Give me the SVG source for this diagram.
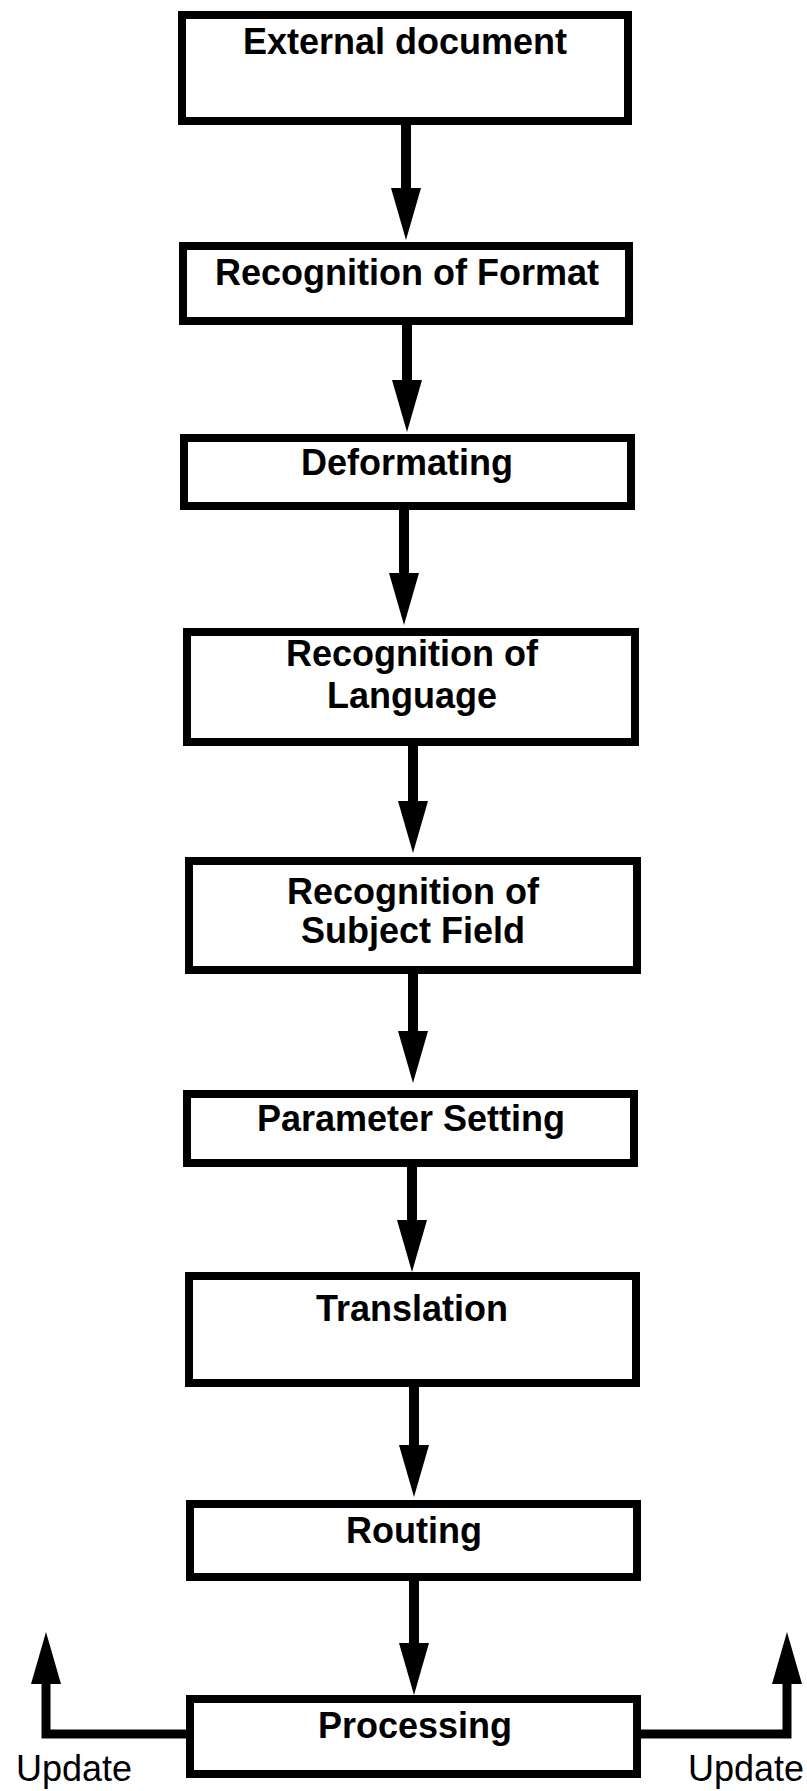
<svg xmlns="http://www.w3.org/2000/svg" width="807" height="1791" viewBox="0 0 807 1791">
<style>
.box{fill:#fff;stroke:#000;stroke-width:8}
.lbl{font-family:"Liberation Sans",Arial,Helvetica,sans-serif;font-weight:bold;font-size:36px;fill:#000;text-anchor:middle}
.upd{font-family:"Liberation Sans",Arial,Helvetica,sans-serif;font-size:36px;fill:#000;text-anchor:middle}
.arr{stroke:#000;stroke-width:10;fill:none}
.side{stroke:#000;stroke-width:9;fill:none;stroke-linejoin:miter}
</style>
<defs>
<marker id="ah" viewBox="0 0 52 30" refX="4" refY="15" markerWidth="52" markerHeight="30" markerUnits="userSpaceOnUse" orient="auto">
<path d="M0,0 L52,15 L0,30 z" fill="#000"/>
</marker>
</defs>
<rect width="807" height="1791" fill="#fff"/>
<g id="connectors">
<line class="arr" x1="406" y1="125" x2="406" y2="192" marker-end="url(#ah)"/>
<line class="arr" x1="407" y1="325" x2="407" y2="384" marker-end="url(#ah)"/>
<line class="arr" x1="404" y1="510" x2="404" y2="577" marker-end="url(#ah)"/>
<line class="arr" x1="413" y1="746" x2="413" y2="805" marker-end="url(#ah)"/>
<line class="arr" x1="413" y1="974" x2="413" y2="1035" marker-end="url(#ah)"/>
<line class="arr" x1="412" y1="1167" x2="412" y2="1224" marker-end="url(#ah)"/>
<line class="arr" x1="414" y1="1387" x2="414" y2="1449" marker-end="url(#ah)"/>
<line class="arr" x1="414" y1="1581" x2="414" y2="1647" marker-end="url(#ah)"/>
<polyline class="side" points="186,1734 46,1734 46,1680" marker-end="url(#ah)"/>
<polyline class="side" points="641,1734 787,1734 787,1680" marker-end="url(#ah)"/>
</g>
<g id="n1"><rect class="box" x="182" y="15" width="446" height="106"/><text class="lbl" x="405" y="54">External document</text></g>
<g id="n2"><rect class="box" x="183" y="246" width="446" height="75"/><text class="lbl" x="407" y="285">Recognition of Format</text></g>
<g id="n3"><rect class="box" x="184" y="438" width="447" height="68"/><text class="lbl" x="407" y="475">Deformating</text></g>
<g id="n4"><rect class="box" x="187" y="632" width="448" height="110"/><text class="lbl" x="412" y="666">Recognition of</text><text class="lbl" x="412" y="708">Language</text></g>
<g id="n5"><rect class="box" x="189" y="861" width="448" height="109"/><text class="lbl" x="413" y="904">Recognition of</text><text class="lbl" x="413" y="943">Subject Field</text></g>
<g id="n6"><rect class="box" x="187" y="1094" width="447" height="69"/><text class="lbl" x="411" y="1131">Parameter Setting</text></g>
<g id="n7"><rect class="box" x="189" y="1276" width="447" height="107"/><text class="lbl" x="412" y="1321">Translation</text></g>
<g id="n8"><rect class="box" x="190" y="1504" width="447" height="73"/><text class="lbl" x="414" y="1543">Routing</text></g>
<g id="n9"><rect class="box" x="190" y="1699" width="447" height="75"/><text class="lbl" x="415" y="1738">Processing</text></g>
<g id="u1"><text class="upd" x="74" y="1781">Update</text></g>
<g id="u2"><text class="upd" x="746" y="1781">Update</text></g>
</svg>
